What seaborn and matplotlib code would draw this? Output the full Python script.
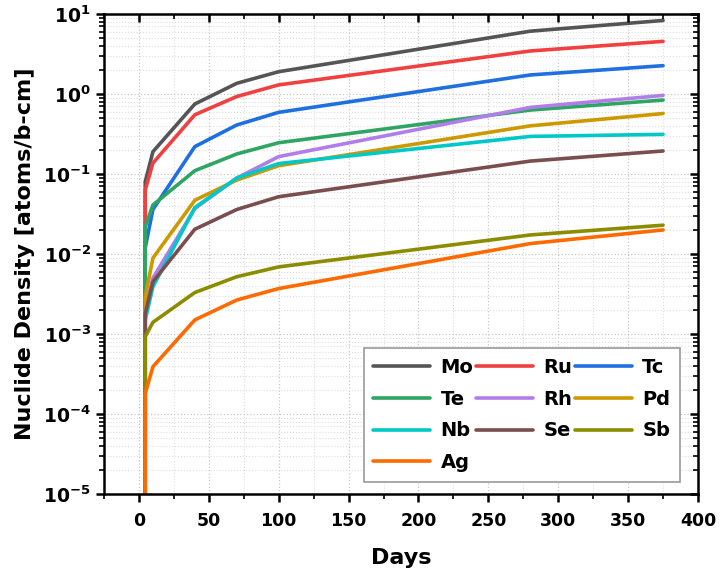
import numpy as np
import pandas as pd
import matplotlib
matplotlib.use("Agg")
import matplotlib.pyplot as plt
import seaborn as sns
from matplotlib.ticker import FuncFormatter, LogLocator, MultipleLocator, NullFormatter

days = [0, 4.5, 10, 40, 70, 100, 280, 375]

Mo = [0, 0.080, 0.19, 0.75, 1.36, 1.90, 6.1, 8.3]
Ru = [0, 0.063, 0.137, 0.55, 0.93, 1.30, 3.45, 4.55]
Tc = [0, 0.012, 0.036, 0.22, 0.41, 0.59, 1.73, 2.26]
Te = [0, 0.022, 0.041, 0.11, 0.178, 0.246, 0.63, 0.84]
Rh = [0, 0.0020, 0.0050, 0.037, 0.089, 0.165, 0.68, 0.96]
Pd = [0, 0.0029, 0.0089, 0.047, 0.084, 0.127, 0.40, 0.57]
Nb = [0, 0.0015, 0.0039, 0.038, 0.089, 0.135, 0.295, 0.313]
Se = [0, 0.0018, 0.0045, 0.0204, 0.036, 0.052, 0.145, 0.194]
Sb = [0, 0.00093, 0.0014, 0.0033, 0.0052, 0.0069, 0.0173, 0.0229]
Ag = [0, 0.00018, 0.00039, 0.0015, 0.00266, 0.0037, 0.0135, 0.020]

names = ["Mo", "Ru", "Tc", "Te", "Rh", "Pd", "Nb", "Se", "Sb", "Ag"]
series = [Mo, Ru, Tc, Te, Rh, Pd, Nb, Se, Sb, Ag]
colors = ["#555555", "#F04040", "#1E6FE0", "#2EA563", "#B07EE8",
          "#CC9900", "#00C8C8", "#7A4E4E", "#8C8C00", "#FF6A00"]

df = pd.DataFrame({
    "Days": np.tile(days, len(names)),
    "Density": np.concatenate(series),
    "Nuclide": np.repeat(names, len(days)),
})

sns.set_style("white")
plt.rcParams["font.family"] = ["DejaVu Sans"]
plt.rcParams["font.weight"] = "bold"
plt.rcParams["mathtext.default"] = "bf"
plt.rcParams["text.color"] = "black"
plt.rcParams["axes.labelcolor"] = "black"
plt.rcParams["xtick.color"] = "black"
plt.rcParams["ytick.color"] = "black"

fig = plt.figure(figsize=(7.22, 5.77), dpi=100)
ax = fig.add_axes([104 / 722, 1 - 494 / 577, (698 - 104) / 722, (494 - 14) / 577])

sns.lineplot(data=df, x="Days", y="Density", hue="Nuclide", hue_order=names,
             palette=dict(zip(names, colors)), linewidth=2.6, ax=ax,
             estimator=None, sort=True)

ax.set_yscale("log", nonpositive="clip")
ax.set_ylim(1e-5, 10)
ax.set_xlim(-25, 400)

ax.xaxis.set_major_locator(MultipleLocator(50))
ax.xaxis.set_minor_locator(MultipleLocator(25))
ax.yaxis.set_major_locator(LogLocator(base=10, numticks=20))
ax.yaxis.set_minor_locator(LogLocator(base=10, subs=np.arange(2, 10), numticks=20))
ax.yaxis.set_minor_formatter(NullFormatter())
ax.yaxis.set_major_formatter(FuncFormatter(lambda v, p: r"$10^{%d}$" % int(round(np.log10(v)))))

ax.grid(True, which="major", color="#c8c8c8", linestyle=":", linewidth=0.9)
ax.grid(True, which="minor", color="#dedede", linestyle=":", linewidth=0.8)

for s in ax.spines.values():
    s.set_visible(True)
    s.set_linewidth(1.8)
    s.set_color("black")

ax.tick_params(axis="both", which="major", direction="out", length=6, width=1.8,
               labelsize=12.5, bottom=True, left=True, top=False, right=False,
               colors="black")
ax.tick_params(axis="x", which="major", pad=7)
ax.tick_params(axis="y", which="major", labelsize=13.5)
ax.tick_params(axis="both", which="minor", direction="out", length=3.5, width=1.2,
               bottom=True, left=True, top=False, right=False)

# mirrored inward ticks on top and right
tw = ax.twinx()
tw.set_yscale("log")
tw.set_ylim(ax.get_ylim())
tw.yaxis.set_major_locator(LogLocator(base=10, numticks=20))
tw.yaxis.set_minor_locator(LogLocator(base=10, subs=np.arange(2, 10), numticks=20))
tw.yaxis.set_minor_formatter(NullFormatter())
tw.tick_params(axis="y", which="major", direction="in", length=6, width=1.8,
               right=True, left=False, labelright=False, labelleft=False)
tw.tick_params(axis="y", which="minor", direction="in", length=3.5, width=1.2,
               right=True, left=False)
tw.xaxis.set_visible(False)
for s in tw.spines.values():
    s.set_visible(False)

ty = ax.twiny()
ty.set_xlim(ax.get_xlim())
ty.xaxis.set_major_locator(MultipleLocator(50))
ty.xaxis.set_minor_locator(MultipleLocator(25))
ty.tick_params(axis="x", which="major", direction="in", length=6, width=1.8,
               top=True, bottom=False, labeltop=False, labelbottom=False)
ty.tick_params(axis="x", which="minor", direction="in", length=3.5, width=1.2,
               top=True, bottom=False)
ty.yaxis.set_visible(False)
for s in ty.spines.values():
    s.set_visible(False)

ax.set_xlabel("Days", fontsize=16, fontweight="bold", labelpad=13)
ax.set_ylabel("Nuclide Density [atoms/b-cm]", fontsize=16, fontweight="bold", labelpad=6)

handles, labels = ax.get_legend_handles_labels()
if ax.get_legend() is not None:
    ax.get_legend().remove()
hmap = dict(zip(labels, handles))
order = ["Mo", "Te", "Nb", "Ag", "Ru", "Rh", "Se", "Tc", "Pd", "Sb"]
leg = ty.legend([hmap[k] for k in order], order, loc="lower right",
                bbox_to_anchor=((680 - 104) / 594, (494 - 482) / 480), ncol=3,
                prop={"weight": "bold", "size": 14}, handlelength=2.9,
                handletextpad=0.55, columnspacing=0.15, labelspacing=0.66,
                borderaxespad=0.0, borderpad=0.5, fancybox=False, framealpha=1,
                edgecolor="#999999")
leg.get_frame().set_linewidth(1.2)

fig.savefig("out.png", dpi=100)
